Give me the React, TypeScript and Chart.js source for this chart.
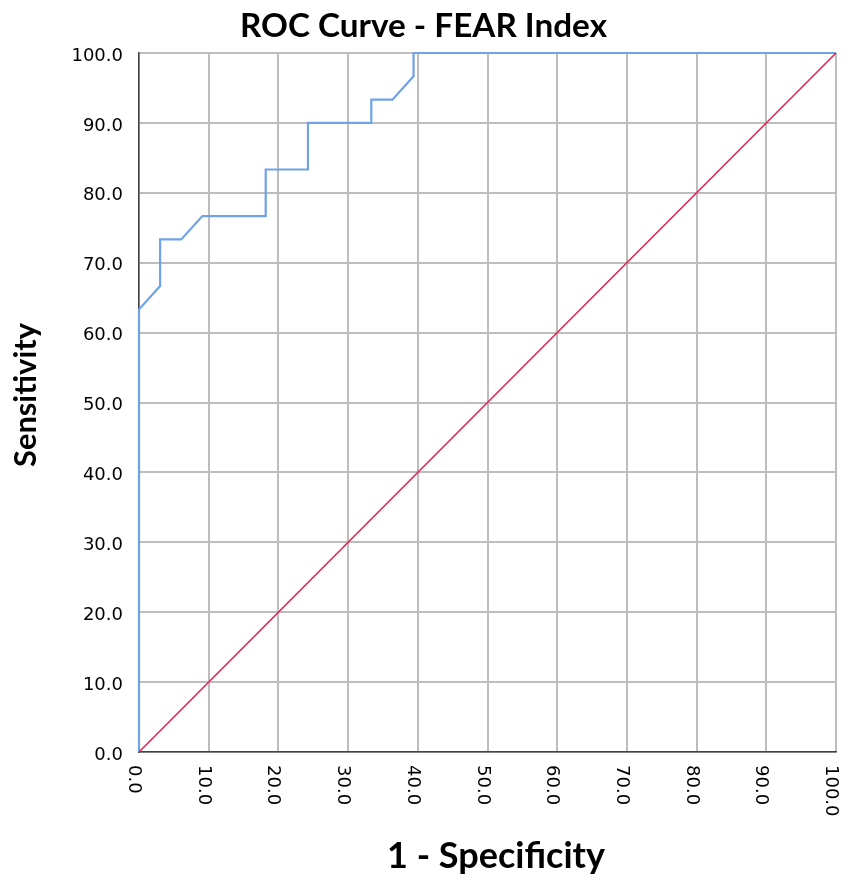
import { useEffect, useRef } from "react";
import { Chart, registerables } from "chart.js";

Chart.register(...registerables);

// ROC curve points (1 - specificity, sensitivity), in percent
const fpr = [0, 0, 3.03, 3.03, 6.06, 9.09, 18.18, 18.18, 24.24, 24.24, 33.33, 33.33, 36.36, 39.39, 39.39, 100];
const tpr = [0, 63.33, 66.67, 73.33, 73.33, 76.67, 76.67, 83.33, 83.33, 90, 90, 93.33, 93.33, 96.67, 100, 100];

// Reference (chance) line
const refX = [0, 100];
const refY = [0, 100];

const chartTitle = "ROC Curve - FEAR Index";
const xTitle = "1 - Specificity";
const yTitle = "Sensitivity";

const TITLE_FONT = "Lato";
const TICK_FONT = "DejaVu Sans";

function fitFont(ctx: CanvasRenderingContext2D, text: string, family: string, weight: string, target: number) {
  ctx.font = `${weight} 100px '${family}'`;
  const w = ctx.measureText(text).width;
  const size = (100 * target) / w;
  return `${weight} ${size.toFixed(2)}px '${family}'`;
}

export default function App() {
  const ref = useRef<HTMLCanvasElement>(null);

  useEffect(() => {
    const canvas = ref.current;
    if (!canvas) return;

    const textPlugin = {
      id: "rocTexts",
      afterDraw(chart: any) {
        const { ctx, chartArea, scales } = chart;
        const xs = scales.x;
        ctx.save();
        // rotated x tick labels (clockwise)
        ctx.font = `18px '${TICK_FONT}'`;
        ctx.fillStyle = "#000";
        ctx.textAlign = "left";
        ctx.textBaseline = "alphabetic";
        for (const t of xs.ticks) {
          const px = xs.getPixelForValue(t.value);
          ctx.save();
          ctx.translate(px, chartArea.bottom + 13);
          ctx.rotate(Math.PI / 2);
          ctx.fillText(Number(t.value).toFixed(1), 0, 10);
          ctx.restore();
        }
        // main title
        ctx.textAlign = "center";
        ctx.font = fitFont(ctx, chartTitle, TITLE_FONT, "bold", 367);
        ctx.fillText(chartTitle, 423.5, 37);
        // x axis title
        ctx.font = fitFont(ctx, xTitle, TITLE_FONT, "bold", 218);
        ctx.fillText(xTitle, 496, 868);
        // y axis title
        ctx.save();
        ctx.font = fitFont(ctx, yTitle, TITLE_FONT, "bold", 144);
        ctx.translate(36, 395);
        ctx.rotate(-Math.PI / 2);
        ctx.fillText(yTitle, 0, 0);
        ctx.restore();
        ctx.restore();
      },
    };

    const chart = new Chart(canvas, {
      type: "scatter",
      data: {
        datasets: [
          {
            label: "Reference",
            data: refX.map((x, i) => ({ x, y: refY[i] })),
            showLine: true,
            borderColor: "rgb(226, 36, 82)",
            borderWidth: 1.6,
            pointRadius: 0,
            fill: false,
            clip: false,
          },
          {
            label: "FEAR Index",
            data: fpr.map((x, i) => ({ x, y: tpr[i] })),
            showLine: true,
            borderColor: "rgb(112, 162, 232)",
            borderWidth: 2.2,
            pointRadius: 0,
            fill: false,
            clip: false,
          },
        ],
      },
      options: {
        animation: false,
        responsive: false,
        devicePixelRatio: 1,
        layout: { padding: { top: 53, right: 20, left: 0, bottom: 0 } },
        plugins: {
          legend: { display: false },
          title: { display: false },
          tooltip: { enabled: false },
        },
        scales: {
          x: {
            type: "linear",
            min: 0,
            max: 100,
            ticks: { stepSize: 10, display: false },
            grid: { color: "#bdbdbd", lineWidth: 2, drawTicks: false },
            border: { display: true, color: "#444", width: 1.5 },
            afterFit(scale: any) {
              scale.height = 129;
            },
          },
          y: {
            type: "linear",
            min: 0,
            max: 100,
            ticks: {
              stepSize: 10,
              color: "#000",
              padding: 16,
              labelOffset: 3,
              font: { family: TICK_FONT, size: 18 },
              callback: (v: any) => Number(v).toFixed(1),
            },
            grid: { color: "#bdbdbd", lineWidth: 2, drawTicks: false },
            border: { display: true, color: "#444", width: 1.5 },
            afterFit(scale: any) {
              scale.width = 139;
            },
          },
        },
      },
      plugins: [textPlugin],
    });

    return () => chart.destroy();
  }, []);

  return (
    <canvas
      ref={ref}
      width={856}
      height={881}
      style={{ position: "absolute", left: 0, top: 0, width: 856, height: 881, display: "block" }}
    />
  );
}
